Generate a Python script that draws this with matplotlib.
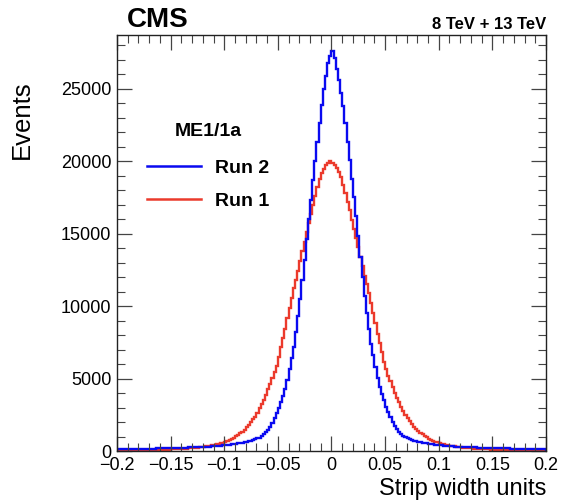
import numpy as np
import matplotlib
matplotlib.use("Agg")
import matplotlib.pyplot as plt
from matplotlib.lines import Line2D
from matplotlib.ticker import MultipleLocator

plt.rcParams['font.family'] = ['Liberation Sans', 'DejaVu Sans']

# ---- data ----
x_min, x_max, n_bins = -0.2, 0.2, 200

run2_counts = [
    113, 116, 120, 123, 126, 130, 133, 136, 140, 143,
    146, 150, 153, 156, 160, 163, 166, 170, 173, 176,
    180, 183, 186, 190, 193, 197, 200, 206, 212, 218,
    224, 230, 237, 243, 250, 256, 263, 270, 276, 283,
    290, 296, 303, 310, 320, 335, 350, 360, 375, 390,
    400, 420, 440, 460, 480, 500, 520, 545, 570, 605,
    640, 680, 720, 760, 810, 870, 930, 1020, 1140, 1280,
    1450, 1680, 1950, 2250, 2600, 2950, 3400, 3800, 4300, 4900,
    5650, 6400, 7200, 8200, 9300, 10500, 11800, 13200, 14600, 16000,
    17300, 18700, 20000, 21300, 22600, 23900, 24950, 25900, 26800, 27250,
    27600, 27100, 26350, 25600, 24700, 23800, 22600, 21300, 20100, 18800,
    17500, 16200, 14800, 13400, 12000, 10700, 9500, 8400, 7400, 6600,
    5800, 5050, 4450, 3950, 3500, 3050, 2700, 2350, 2030, 1750,
    1500, 1320, 1170, 1040, 940, 870, 810, 760, 720, 680,
    640, 605, 570, 545, 520, 500, 480, 460, 440, 420,
    400, 390, 375, 360, 350, 335, 320, 310, 303, 296,
    290, 283, 276, 270, 263, 256, 250, 243, 237, 230,
    224, 218, 212, 206, 200, 197, 193, 190, 186, 183,
    180, 176, 173, 170, 166, 163, 160, 156, 153, 150,
    146, 143, 140, 136, 133, 130, 126, 123, 120, 116,
]

run1_counts = [
    20, 21, 22, 24, 26, 28, 30, 32, 34, 36,
    39, 42, 45, 48, 51, 55, 59, 63, 67, 72,
    77, 82, 87, 93, 99, 106, 113, 121, 129, 138,
    147, 157, 168, 180, 193, 207, 222, 238, 255, 275,
    295, 315, 340, 365, 395, 425, 460, 500, 540, 585,
    640, 700, 770, 840, 920, 1010, 1110, 1220, 1340, 1480,
    1630, 1800, 1990, 2180, 2380, 2650, 2950, 3250, 3550, 3850,
    4250, 4650, 5050, 5450, 5850, 6500, 7150, 7800, 8450, 9150,
    9850, 10550, 11250, 11800, 12450, 13100, 13800, 14450, 15100, 15700,
    16350, 17000, 17600, 18200, 18800, 19150, 19450, 19700, 19900, 20000,
    19900, 19750, 19500, 19250, 18900, 18350, 17800, 17200, 16600, 15950,
    15350, 14700, 14050, 13400, 12750, 12100, 11500, 10900, 10200, 9500,
    8800, 8100, 7450, 6800, 6150, 5650, 5200, 4800, 4400, 4000,
    3650, 3350, 3050, 2750, 2480, 2250, 2050, 1860, 1690, 1530,
    1380, 1250, 1140, 1040, 940, 860, 780, 710, 650, 595,
    545, 500, 460, 425, 395, 365, 340, 315, 295, 275,
    255, 238, 222, 207, 193, 180, 168, 157, 147, 138,
    129, 121, 113, 106, 99, 93, 87, 82, 77, 72,
    67, 63, 59, 55, 51, 48, 45, 42, 39, 36,
    34, 32, 30, 28, 26, 24, 22, 21, 20, 19,
]

x_ticks = [-0.2, -0.15, -0.1, -0.05, 0, 0.05, 0.1, 0.15, 0.2]
x_tick_labels = ["\u22120.2", "\u22120.15", "\u22120.1", "\u22120.05", "0", "0.05", "0.1", "0.15", "0.2"]
y_ticks = [0, 5000, 10000, 15000, 20000, 25000]
y_tick_labels = ["0", "5000", "10000", "15000", "20000", "25000"]

edges = np.linspace(x_min, x_max, n_bins + 1)

# ---- figure ----
fig = plt.figure(figsize=(5.62, 5.01), dpi=100)
ax = fig.add_axes([0.2082, 0.0998, 0.7633, 0.8303])

blue = '#0a0af0'
red = '#eb3a2c'

ax.stairs(run1_counts, edges, color=red, lw=1.7, baseline=0)
ax.stairs(run2_counts, edges, color=blue, lw=1.7, baseline=0)

ax.set_xlim(x_min, x_max)
ax.set_ylim(0, 28700)

ax.set_xticks(x_ticks)
ax.set_xticklabels(x_tick_labels, fontsize=13)
ax.set_yticks(y_ticks)
ax.set_yticklabels(y_tick_labels, fontsize=13)
ax.xaxis.set_minor_locator(MultipleLocator(0.01))
ax.yaxis.set_minor_locator(MultipleLocator(1000))

ax.tick_params(which='both', direction='in', top=True, right=True, color='#444444')
ax.tick_params(which='major', length=11, width=0.9)
ax.tick_params(which='minor', length=6, width=0.8)
ax.tick_params(axis='x', pad=4)
ax.tick_params(axis='y', pad=4)
for s in ax.spines.values():
    s.set_linewidth(1.0)
    s.set_color('#222222')

ax.set_xlabel("Strip width units", fontsize=17, loc='right', labelpad=3)
ax.set_ylabel("Events", fontsize=18.5, loc='top')
ax.yaxis.set_label_coords(-0.193, 0.892)

fig.text(0.226, 0.946, "CMS", fontsize=20, fontweight='bold', ha='left', va='baseline')
fig.text(0.9715, 0.943, "8 TeV + 13 TeV", fontsize=12, fontweight='bold', ha='right', va='baseline')

handles = [Line2D([], [], color=blue, lw=1.8), Line2D([], [], color=red, lw=1.8)]
leg = ax.legend(handles, ["Run 2", "Run 1"], title="ME1/1a", loc='upper left',
                bbox_to_anchor=(0.070, 0.788), frameon=False, borderaxespad=0,
                borderpad=0, handlelength=2.75, handletextpad=0.75, labelspacing=0.78,
                prop={'size': 14, 'weight': 'bold'},
                title_fontproperties={'size': 14, 'weight': 'bold'})
leg._legend_box.sep = 14

fig.savefig("out.png", dpi=100)
